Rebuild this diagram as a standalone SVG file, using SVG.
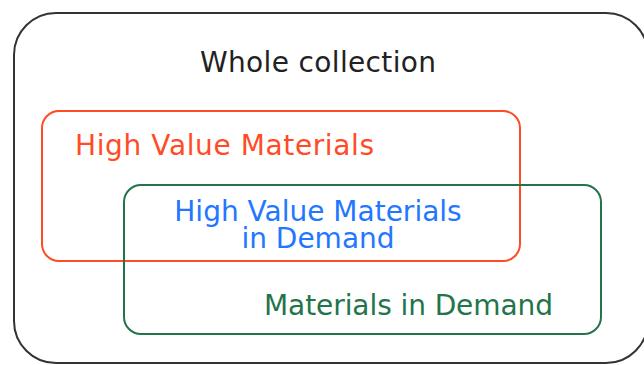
<svg xmlns="http://www.w3.org/2000/svg" width="644" height="365" viewBox="0 0 644 365">
<style>
text{font-family:"DejaVu Sans",Verdana,sans-serif;font-size:28px}
.box{fill:none;stroke-width:2}
</style>
<rect width="644" height="365" fill="#fff"/>
<g id="whole">
<rect class="box" x="14" y="13" width="634" height="350" rx="42" stroke="#333"/>
<text x="200" y="72" textLength="236" lengthAdjust="spacing" fill="#222">Whole collection</text>
</g>
<g id="high-value">
<rect class="box" x="42" y="111" width="478" height="150" rx="17" stroke="#ff4b26"/>
<text x="75" y="155" textLength="299" lengthAdjust="spacing" fill="#ff4b26">High Value Materials</text>
</g>
<g id="in-demand">
<rect class="box" x="124" y="185" width="477" height="149" rx="17" stroke="#23744a"/>
<text x="264" y="315" textLength="289" lengthAdjust="spacing" fill="#23744a">Materials in Demand</text>
</g>
<g id="intersection">
<text x="318" y="221" text-anchor="middle" fill="#2377ff">High Value Materials</text>
<text x="318" y="248" text-anchor="middle" fill="#2377ff">in Demand</text>
</g>
<g id="connectors"/>
</svg>
